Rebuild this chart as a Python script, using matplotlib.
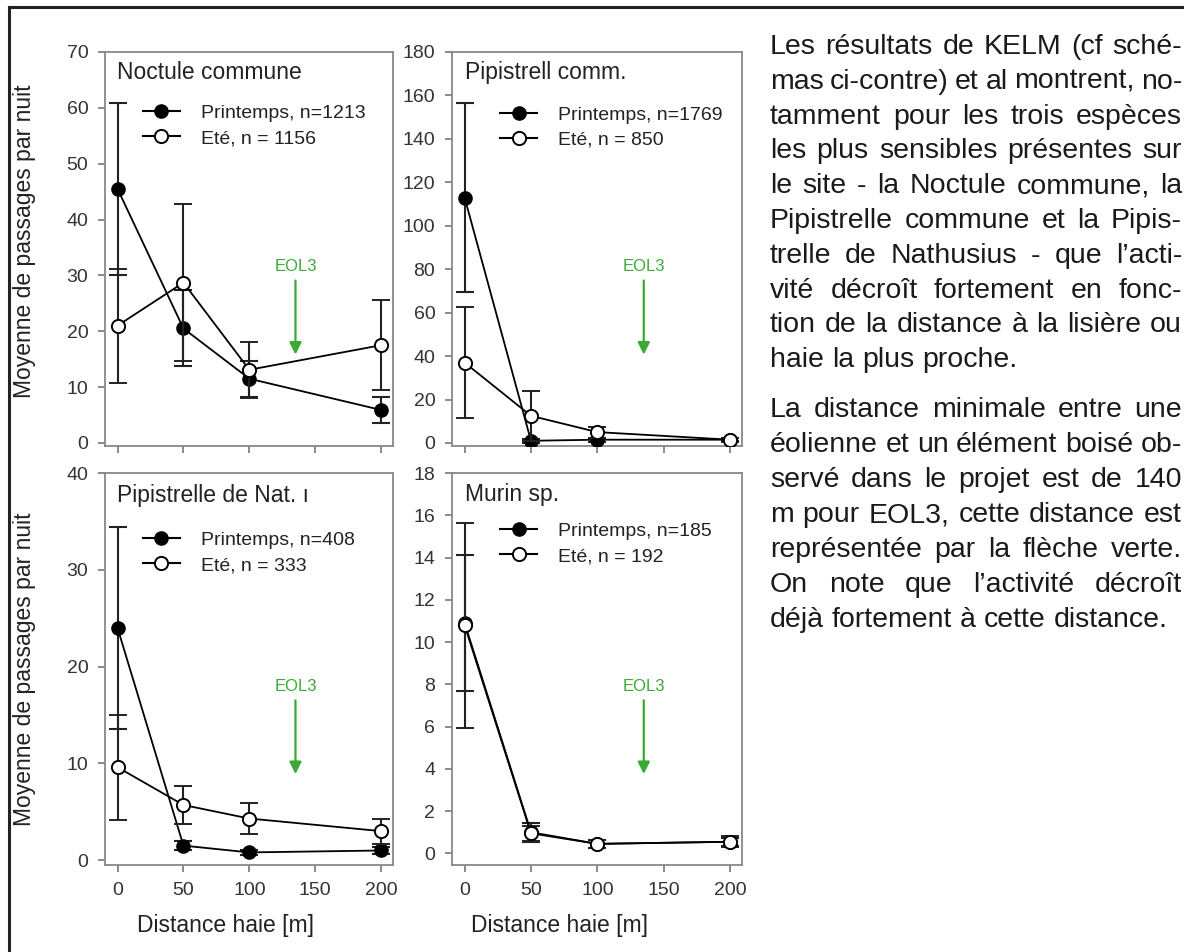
import matplotlib
matplotlib.use("Agg")
import matplotlib.pyplot as plt
import matplotlib.transforms as mtransforms
from matplotlib.lines import Line2D

plt.rcParams['font.family'] = ['Liberation Sans', 'DejaVu Sans']

# distance to hedge (m)
dist = [0, 50, 100, 200]

titles = ["Noctule commune", "Pipistrell comm.", "Pipistrelle de Nat. ı", "Murin sp."]
labels_print = ["Printemps, n=1213", "Printemps, n=1769", "Printemps, n=408", "Printemps, n=185"]
labels_ete = ["Eté, n = 1156", "Eté, n = 850", "Eté, n = 333", "Eté, n = 192"]

noct_print = [45.5, 20.5, 11.5, 5.9]
noct_print_err = [15.4, 6.8, 3.2, 2.3]
noct_ete = [21.0, 28.7, 13.1, 17.5]
noct_ete_err = [10.2, 14.1, 5.0, 8.1]

pip_print = [113, 1.0, 1.5, 1.5]
pip_print_err = [43.5, 1.0, 1.0, 0.8]
pip_ete = [37, 12.5, 5.0, 1.5]
pip_ete_err = [25.7, 11.5, 2.5, 1.0]

nat_print = [24.0, 1.5, 0.8, 1.0]
nat_print_err = [10.4, 0.5, 0.3, 0.4]
nat_ete = [9.6, 5.7, 4.3, 3.0]
nat_ete_err = [5.4, 2.0, 1.6, 1.3]

mur_print = [10.9, 1.0, 0.45, 0.55]
mur_print_err = [3.2, 0.45, 0.2, 0.2]
mur_ete = [10.8, 0.95, 0.45, 0.55]
mur_ete_err = [4.85, 0.35, 0.2, 0.25]

series_print = [noct_print, pip_print, nat_print, mur_print]
series_print_err = [noct_print_err, pip_print_err, nat_print_err, mur_print_err]
series_ete = [noct_ete, pip_ete, nat_ete, mur_ete]
series_ete_err = [noct_ete_err, pip_ete_err, nat_ete_err, mur_ete_err]

ymax = [70, 180, 40, 18]
ystep = [10, 20, 10, 2]
ymin = [-0.55, -1.4, -0.5, -0.55]

eol3_x = 135
green = "#3aaa35"

W, H = 1184, 952
fig = plt.figure(figsize=(W / 100, H / 100), dpi=100)

# axes boxes in pixels: left, top, right, bottom
boxes = [(105, 52, 393, 446), (452, 52, 742, 446),
         (105, 473, 393, 865), (452, 473, 742, 865)]
legend_pos = [(0.132, 0.868), (0.166, 0.863), (0.132, 0.852), (0.166, 0.875)]
title_pos = [(0.042, 0.948), (0.045, 0.948), (0.042, 0.943), (0.045, 0.946)]

for i in range(4):
    l, t, r, b = boxes[i]
    ax = fig.add_axes([l / W, (H - b) / H, (r - l) / W, (b - t) / H])

    ax.errorbar(dist, series_print[i], yerr=series_print_err[i], color="black",
                ecolor="#222222", elinewidth=1.5, capsize=6.5, capthick=1.5,
                lw=1.3, marker="o", ms=9.5, mfc="black", mec="black", zorder=3)
    ax.errorbar(dist, series_ete[i], yerr=series_ete_err[i], color="black",
                ecolor="#222222", elinewidth=1.5, capsize=6.5, capthick=1.5,
                lw=1.3, marker="o", ms=9.5, mfc="white", mec="black", mew=1.4,
                zorder=4)

    ax.set_xlim(-9.5, 209)
    ax.set_ylim(ymin[i], ymax[i])
    ax.set_xticks([0, 50, 100, 150, 200])
    ax.set_yticks(range(0, ymax[i] + 1, ystep[i]))
    ax.tick_params(direction="out", length=5, width=1.2, color="#777777",
                   labelsize=14, labelcolor="#333333", pad=7)
    if i < 2:
        ax.set_xticklabels([])
    for s in ax.spines.values():
        s.set_color("#888888")
        s.set_linewidth(1.3)

    ax.text(title_pos[i][0], title_pos[i][1], titles[i], transform=ax.transAxes,
            fontsize=16.5, color="#222222", ha="left", va="center")

    h_print = Line2D([], [], color="black", lw=1.5, marker="o", ms=9.5,
                     mfc="black", mec="black")
    h_ete = Line2D([], [], color="black", lw=1.5, marker="o", ms=9.5,
                   mfc="white", mec="black", mew=1.4)
    leg = ax.legend([h_print, h_ete], [labels_print[i], labels_ete[i]],
                    loc="upper left", bbox_to_anchor=legend_pos[i],
                    frameon=False, fontsize=14, handlelength=1.9,
                    handletextpad=1.1, labelspacing=0.4, borderpad=0,
                    borderaxespad=0)
    for txt in leg.get_texts():
        txt.set_color("#222222")

    trans = mtransforms.blended_transform_factory(ax.transData, ax.transAxes)
    ax.text(eol3_x, 0.455, "EOL3", transform=trans, color=green, fontsize=12,
            ha="center", va="center")
    ax.annotate("", xy=(eol3_x, 0.232), xycoords=trans,
                xytext=(eol3_x, 0.42), textcoords=trans,
                arrowprops=dict(arrowstyle="-|>", color=green, lw=1.6,
                                mutation_scale=18, shrinkA=0, shrinkB=0))

    if i % 2 == 0:
        ax.set_ylabel("Moyenne de passages par nuit", fontsize=16.5, color="#222222")
        ax.yaxis.set_label_coords(-0.24, 0.52 if i == 0 else 0.5)
    if i >= 2:
        ax.set_xlabel("Distance haie [m]", fontsize=16.5, color="#222222")
        ax.xaxis.set_label_coords(0.42 if i == 2 else 0.372, -0.125)

# outer frame lines
fig.add_artist(Line2D([9 / W, 9 / W], [0, 1 - 7 / H], transform=fig.transFigure,
                      color="#222222", lw=2.2))
fig.add_artist(Line2D([9 / W, 1], [1 - 7 / H, 1 - 7 / H], transform=fig.transFigure,
                      color="#222222", lw=2.2))

# right-hand justified text
para1 = ["Les résultats de KELM (cf sché-",
         "mas ci-contre) et al montrent, no-",
         "tamment pour les trois espèces",
         "les plus sensibles présentes sur",
         "le site - la Noctule commune, la",
         "Pipistrelle commune et la Pipis-",
         "trelle de Nathusius - que l’acti-",
         "vité décroît fortement en fonc-",
         "tion de la distance à la lisière ou",
         "haie la plus proche."]
para2 = ["La distance minimale entre une",
         "éolienne et un élément boisé ob-",
         "servé dans le projet est de 140",
         "m pour EOL3, cette distance est",
         "représentée par la flèche verte.",
         "On note que l’activité décroît",
         "déjà fortement à cette distance."]

x0, x1 = 770, 1182
renderer = fig.canvas.get_renderer()
tkw = dict(color="#1a1a1a", va="baseline", ha="left")


def put_line(line, ybase, last):
    yf = 1 - ybase / H
    words = line.split(" ")
    size = 20.5
    texts = [fig.text(0, yf, w, fontsize=size, **tkw) for w in words]
    widths = [t.get_window_extent(renderer).width for t in texts]
    # shrink a line slightly if it would not fit with a small gap
    while sum(widths) + 4 * (len(words) - 1) > x1 - x0 and size > 16:
        size -= 0.25
        for t in texts:
            t.set_fontsize(size)
        widths = [t.get_window_extent(renderer).width for t in texts]
    if last:
        gap = 0.278 * size * 100 / 72
    else:
        gap = (x1 - x0 - sum(widths)) / (len(words) - 1)
    x = x0
    for t, w in zip(texts, widths):
        t.set_x(x / W)
        x += w + gap


for k, line in enumerate(para1):
    put_line(line, 54 + 34.8 * k, k == len(para1) - 1)
for k, line in enumerate(para2):
    put_line(line, 417 + 35 * k, k == len(para2) - 1)

fig.savefig("out.png", dpi=100)
